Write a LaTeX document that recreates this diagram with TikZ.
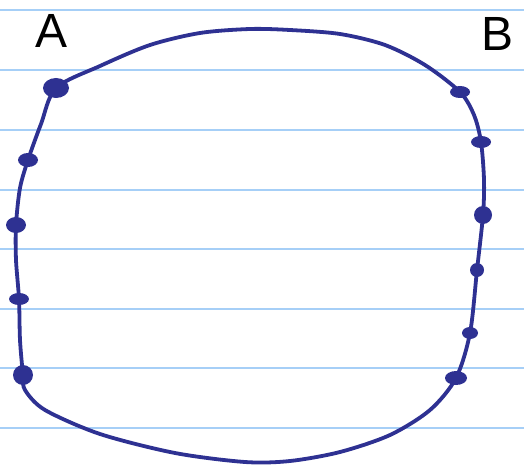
\documentclass[tikz,border=0pt]{standalone}
\usepackage{fontspec}
\setmainfont{Liberation Sans}
\begin{document}
\begin{tikzpicture}[x=1pt,y=-1pt,
  ink/.style={draw=inkblue,line width=3.8pt,line cap=round,line join=round},
  rule/.style={draw=ruleblue,line width=2pt},
  lab/.style={font=\fontsize{48}{48}\selectfont,text=black}]
\definecolor{inkblue}{HTML}{2E3192}
\definecolor{ruleblue}{HTML}{A6CFF7}
\useasboundingbox (0,0) rectangle (524,468);
\fill[white] (0,0) rectangle (524,468);
\foreach \yy in {10,70,130,189.5,249,309,368,428}
  \draw[rule] (0,\yy) -- (524,\yy);
% dot positions
\coordinate (l1) at (56,88);
\coordinate (l2) at (28,160);
\coordinate (l3) at (16,225);
\coordinate (l4) at (19,299);
\coordinate (l5) at (23,375);
\coordinate (r1) at (460,92);
\coordinate (r2) at (481,142);
\coordinate (r3) at (483,215);
\coordinate (r4) at (477,270);
\coordinate (r5) at (470,333);
\coordinate (r6) at (456,378);
\draw[ink] plot[smooth cycle,tension=0.5] coordinates{
 (56,88) (100,66) (150,45) (200,33) (250,29) (290,30) (340,34) (385,45) (425,65) (460,92)
 (474,115) (481,142) (484,180) (483,215) (477,270) (470,333) (456,378)
 (430,410) (390,435) (340,452) (290,461) (245,462) (175,453) (100,434) (45,410) (25,390) (23,375)
 (20,340) (19,299) (16,260) (16,225) (20,188) (28,160) (41,124)};
\foreach \c/\w/\h in {l1/13/10,l2/10/7,l3/10/8,l4/10/6,l5/10/10,r1/10/6,r2/10/6,r3/9/9,r4/7/7,r5/8/6,r6/11/7}
  \fill[inkblue] (\c) ellipse ({\w pt} and {\h pt});
\node[lab] (A) at (52,31) {A};
\node[lab] (B) at (497,34) {B};
\end{tikzpicture}
\end{document}
